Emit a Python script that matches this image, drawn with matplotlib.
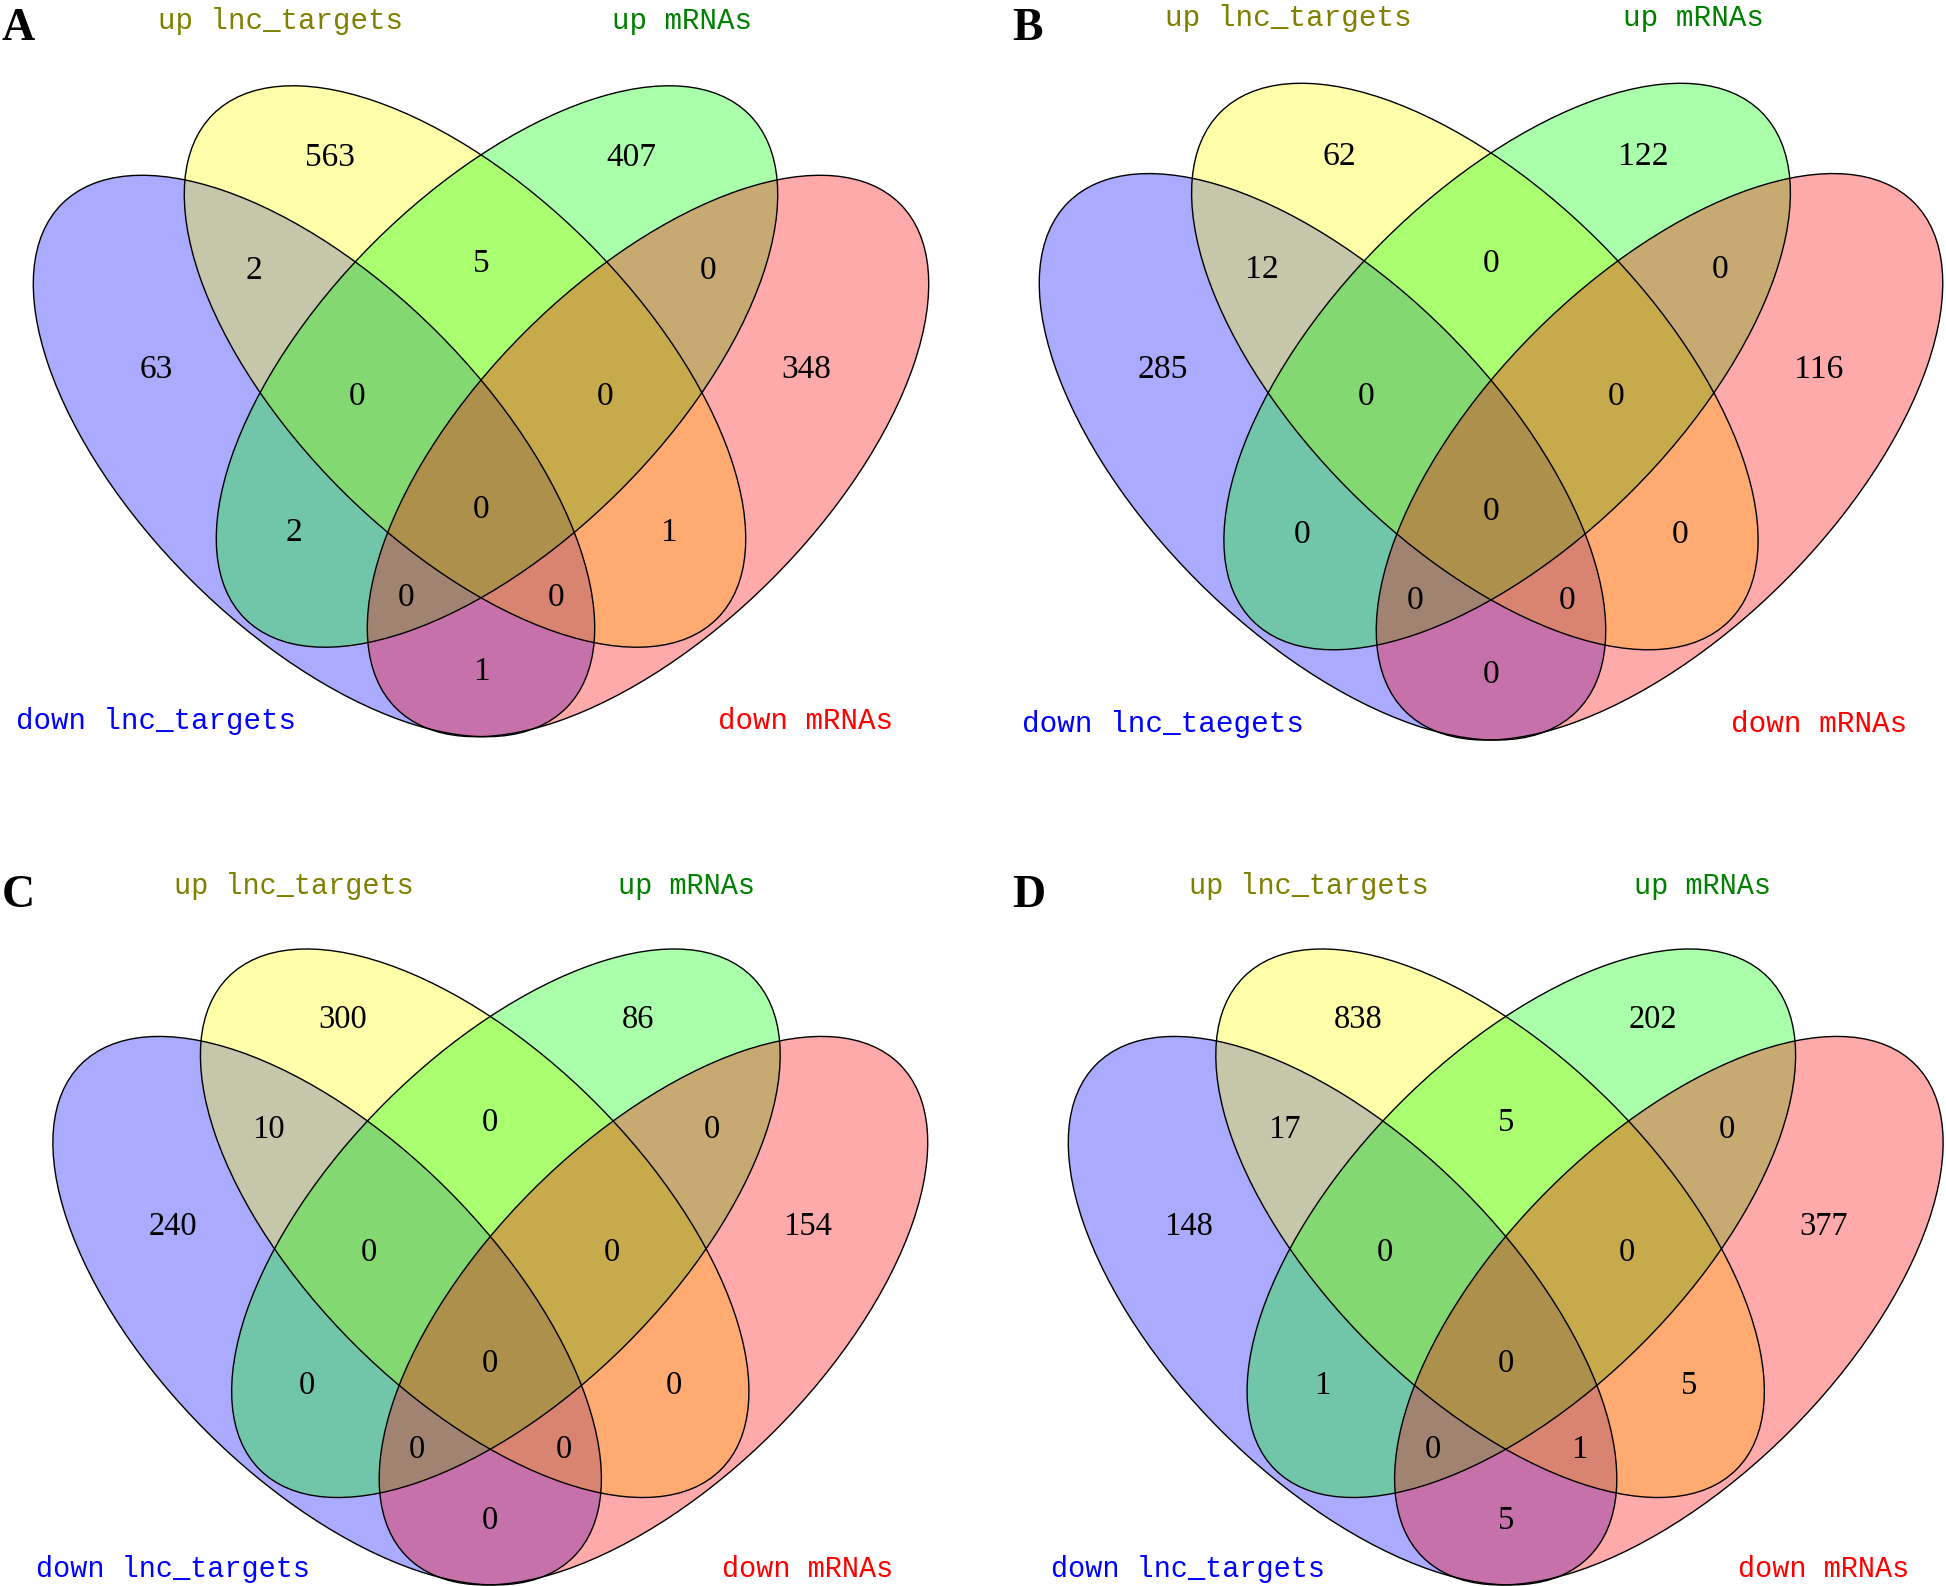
import numpy as np
import matplotlib
matplotlib.use("Agg")
import matplotlib.pyplot as plt
from matplotlib.patches import Ellipse

# ---- data ----
panel_letters = ["A", "B", "C", "D"]

set_names_A = ["down lnc_targets", "up lnc_targets", "up mRNAs", "down mRNAs"]
set_names_B = ["down lnc_taegets", "up lnc_targets", "up mRNAs", "down mRNAs"]
set_names_C = ["down lnc_targets", "up lnc_targets", "up mRNAs", "down mRNAs"]
set_names_D = ["down lnc_targets", "up lnc_targets", "up mRNAs", "down mRNAs"]

# B = down lnc, Y = up lnc, G = up mRNA, R = down mRNA
region_keys = ["Y", "G", "BY", "YG", "GR", "B", "R",
               "BYG", "YGR", "BYGR", "BG", "YR", "BGR", "BYR", "BR"]
counts_A = [563, 407, 2, 5, 0, 63, 348, 0, 0, 0, 2, 1, 0, 0, 1]
counts_B = [62, 122, 12, 0, 0, 285, 116, 0, 0, 0, 0, 0, 0, 0, 0]
counts_C = [300, 86, 10, 0, 0, 240, 154, 0, 0, 0, 0, 0, 0, 0, 0]
counts_D = [838, 202, 17, 5, 0, 148, 377, 0, 0, 0, 1, 5, 0, 1, 5]

set_fill = ["#0000ff", "#ffff00", "#00ff00", "#ff0000"]
set_text = ["#0000ff", "#808000", "#008000", "#ff0000"]

# ---- layout (pixels, relative to midline / top of the yellow ellipse) ----
W, H = 1946, 1586
SEMI_A, SEMI_B = 356.5, 174.7
ell_centres = [(-167, 370), (-16, 280.5), (16, 280.5), (167, 370)]
ell_angles = [45, 45, -45, -45]
region_pos = {
    "Y": (-150.7, 69), "G": (150.7, 69),
    "BY": (-226.7, 181.5), "YG": (0, 175), "GR": (226.7, 181.5),
    "B": (-325, 281), "R": (325, 281),
    "BYG": (-124, 307.5), "YGR": (124, 307.5),
    "BYGR": (0, 421),
    "BG": (-187.5, 444), "YR": (187.5, 444),
    "BGR": (-75, 509), "BYR": (75, 509),
    "BR": (0, 582.5),
}
name_pos = [(-325, 643), (-201, -56.7), (201, -56.7), (325, 643)]

# midline x, yellow top y, scale, letter position
panels = [
    (481.0, 86.0, 1.0, (2, 39.5)),
    (1491.0, 83.5, 1.009, (1012, 39.5)),
    (490.3, 949.2, 0.977, (2, 907)),
    (1505.7, 949.2, 0.977, (1012, 907)),
]
all_counts = [counts_A, counts_B, counts_C, counts_D]
all_names = [set_names_A, set_names_B, set_names_C, set_names_D]

NUM_FS = 24
NAME_FS = 21
LETTER_FS = 33

fig = plt.figure(figsize=(W / 100, H / 100), dpi=100)
ax = fig.add_axes([0, 0, 1, 1])
ax.set_xlim(0, W)
ax.set_ylim(H, 0)
ax.axis("off")

for (mx, ty, s, lpos), counts, names, letter in zip(panels, all_counts, all_names, panel_letters):
    # fills first, outlines afterwards
    for (dx, dy), ang, col in zip(ell_centres, ell_angles, set_fill):
        ax.add_patch(Ellipse((mx + dx * s, ty + dy * s), 2 * SEMI_A * s, 2 * SEMI_B * s,
                             angle=ang, facecolor=col, alpha=0.333, edgecolor="none"))
    for (dx, dy), ang in zip(ell_centres, ell_angles):
        ax.add_patch(Ellipse((mx + dx * s, ty + dy * s), 2 * SEMI_A * s, 2 * SEMI_B * s,
                             angle=ang, facecolor="none", edgecolor="black", lw=1.0))

    fs = NUM_FS * s
    em = fs * 100 / 72
    for key, val in zip(region_keys, counts):
        dx, dy = region_pos[key]
        ax.text(mx + dx * s, ty + dy * s + 0.34 * em, str(val), ha="center", va="baseline",
                fontsize=fs, family="Liberation Serif", color="black")

    for (dx, dy), name, col in zip(name_pos, names, set_text):
        ax.text(mx + dx * s, ty + dy * s, name, ha="center", va="baseline",
                fontsize=NAME_FS * s, family="Liberation Mono", color=col)

    ax.text(lpos[0], lpos[1], letter, ha="left", va="baseline", fontsize=LETTER_FS,
            family="Liberation Serif", fontweight="bold", color="black")

fig.savefig("out.png", dpi=100)
